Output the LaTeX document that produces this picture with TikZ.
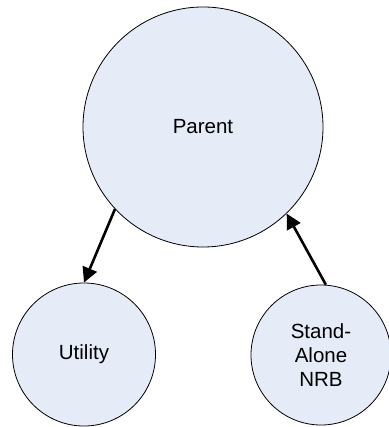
\documentclass[tikz,border=0pt]{standalone}
\usepackage{fontspec}
\setmainfont{Liberation Sans}
\usetikzlibrary{arrows.meta}
\definecolor{bubble}{RGB}{230,236,247}
\tikzset{
    bubble/.style={circle, draw, line width=0.8pt, fill=bubble, align=center, font=\fontsize{20.5}{24}\selectfont, inner sep=0pt},
    link/.style={line width=2.6pt, -{Triangle[length=15pt,width=15pt]}}
}

\begin{document}
\begin{tikzpicture}[x=1pt,y=-1pt]
            \useasboundingbox (0,0) rectangle (388,427);
            \node[bubble, minimum size=240pt] (parent) at (203,127) {Parent};
            \node[bubble, minimum size=143pt] (utility) at (84,354.5) {Utility};
            \node[bubble, minimum size=140pt] (nrb) at (321,355) {Stand-\\Alone\\NRB};
            \draw[link] (parent.223) -- (utility.north);
            \draw[link] (nrb.86) -- (parent.314);
        \end{tikzpicture}
\end{document}
